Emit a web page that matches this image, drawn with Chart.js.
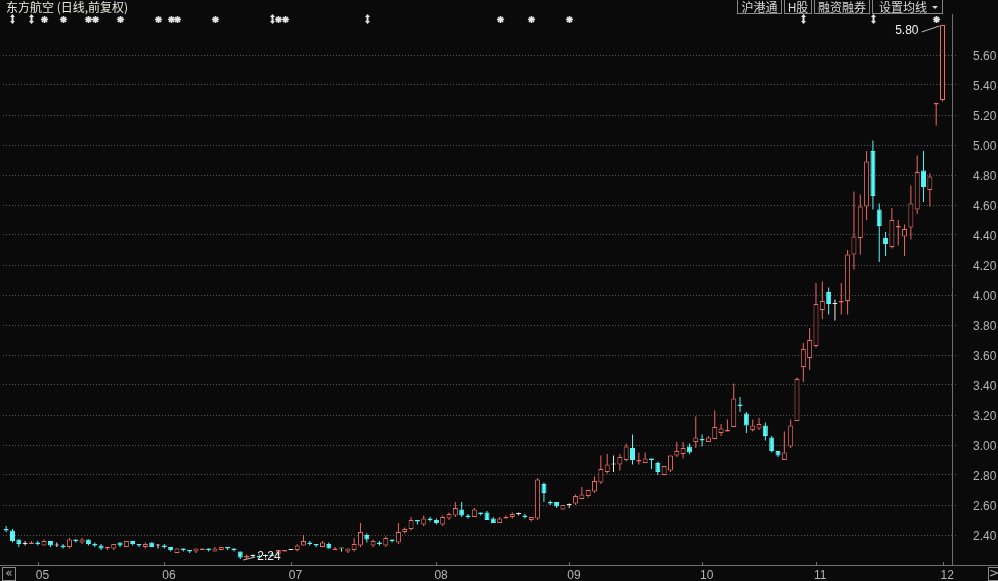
<!DOCTYPE html>
<html>
<head>
<meta charset="utf-8">
<script src="https://cdn.jsdelivr.net/npm/chart.js@4.4.1/dist/chart.umd.min.js"></script>
<style>
  html, body { margin: 0; padding: 0; background: #0a0a0a; }
</style>
</head>
<body>
<canvas id="kline" width="998" height="581"></canvas>
<script>
// trading days, 2014-04-24 .. 2014-12-01
const dates = [
  '04-24','04-25','04-28','04-29','04-30',
  '05-05','05-06','05-07','05-08','05-09','05-12','05-13','05-14','05-15','05-16','05-19','05-20','05-21','05-22','05-23','05-26','05-27','05-28','05-29','05-30',
  '06-03','06-04','06-05','06-06','06-09','06-10','06-11','06-12','06-13','06-16','06-17','06-18','06-19','06-20','06-23','06-24','06-25','06-26','06-27','06-30',
  '07-01','07-02','07-03','07-04','07-07','07-08','07-09','07-10','07-11','07-14','07-15','07-16','07-17','07-18','07-21','07-22','07-23','07-24','07-25','07-28','07-29','07-30','07-31',
  '08-01','08-04','08-05','08-06','08-07','08-08','08-11','08-12','08-13','08-14','08-15','08-18','08-19','08-20','08-21','08-22','08-25','08-26','08-27','08-28','08-29',
  '09-01','09-02','09-03','09-04','09-05','09-09','09-10','09-11','09-12','09-15','09-16','09-17','09-18','09-19','09-22','09-23','09-24','09-25','09-26','09-29','09-30',
  '10-08','10-09','10-10','10-13','10-14','10-15','10-16','10-17','10-20','10-21','10-22','10-23','10-24','10-27','10-28','10-29','10-30','10-31',
  '11-03','11-04','11-05','11-06','11-07','11-10','11-11','11-12','11-13','11-14','11-17','11-18','11-19','11-20','11-21','11-24','11-25','11-26','11-27','11-28',
  '12-01'
];

const opens = [
  2.44, 2.43, 2.37, 2.34, 2.34, 2.35, 2.33, 2.36, 2.33, 2.33,
  2.32, 2.37, 2.35, 2.37, 2.34, 2.33, 2.31, 2.31, 2.35, 2.32,
  2.36, 2.34, 2.32, 2.35, 2.33, 2.33, 2.32, 2.28, 2.31, 2.30,
  2.29, 2.30, 2.31, 2.29, 2.30, 2.32, 2.31, 2.29, 2.25, 2.26,
  2.26, 2.26, 2.27, 2.27, 2.29, 2.30, 2.30, 2.33, 2.35, 2.34,
  2.32, 2.34, 2.30, 2.31, 2.29, 2.30, 2.33, 2.40, 2.33, 2.35,
  2.33, 2.37, 2.35, 2.42, 2.44, 2.50, 2.47, 2.51, 2.50, 2.47,
  2.51, 2.53, 2.57, 2.53, 2.52, 2.55, 2.55, 2.51, 2.48, 2.51,
  2.52, 2.54, 2.53, 2.50, 2.51, 2.74, 2.62, 2.62, 2.57, 2.60,
  2.61, 2.64, 2.66, 2.69, 2.75, 2.82, 2.87, 2.87, 2.90, 2.98,
  2.89, 2.88, 2.91, 2.88, 2.80, 2.83, 2.93, 2.94, 2.99, 3.02,
  3.04, 3.02, 3.04, 3.08, 3.09, 3.12, 3.27, 3.21, 3.10, 3.11,
  3.13, 3.05, 2.96, 2.90, 2.99, 3.16, 3.52, 3.58, 3.66, 3.90,
  4.02, 3.94, 3.95, 3.96, 4.27, 4.38, 4.59, 4.96, 4.57, 4.38,
  4.32, 4.45, 4.39, 4.45, 4.57, 4.83, 4.70, 5.27, 5.30
];
const highs = [
  2.46, 2.44, 2.37, 2.36, 2.36, 2.36, 2.37, 2.36, 2.35, 2.34,
  2.38, 2.37, 2.38, 2.37, 2.35, 2.34, 2.32, 2.34, 2.35, 2.36,
  2.36, 2.34, 2.35, 2.35, 2.34, 2.34, 2.32, 2.31, 2.31, 2.30,
  2.31, 2.31, 2.31, 2.32, 2.32, 2.32, 2.31, 2.29, 2.27, 2.27,
  2.27, 2.27, 2.28, 2.30, 2.30, 2.30, 2.34, 2.40, 2.36, 2.34,
  2.36, 2.35, 2.32, 2.31, 2.31, 2.38, 2.48, 2.41, 2.37, 2.36,
  2.39, 2.37, 2.48, 2.45, 2.52, 2.50, 2.53, 2.52, 2.51, 2.53,
  2.55, 2.62, 2.62, 2.54, 2.58, 2.55, 2.56, 2.52, 2.52, 2.53,
  2.55, 2.55, 2.54, 2.52, 2.78, 2.75, 2.63, 2.62, 2.60, 2.61,
  2.67, 2.72, 2.70, 2.79, 2.93, 2.94, 2.93, 2.94, 3.01, 3.07,
  2.95, 2.95, 2.91, 2.89, 2.86, 2.93, 3.02, 3.02, 3.01, 3.19,
  3.07, 3.06, 3.23, 3.14, 3.17, 3.41, 3.32, 3.22, 3.17, 3.18,
  3.15, 3.06, 2.96, 3.09, 3.17, 3.45, 3.68, 3.78, 4.08, 4.09,
  4.05, 3.97, 4.08, 4.30, 4.69, 4.67, 4.96, 5.03, 4.61, 4.42,
  4.58, 4.50, 4.47, 4.73, 4.93, 4.96, 4.81, 5.28, 5.80
];
const lows = [
  2.42, 2.35, 2.32, 2.33, 2.34, 2.33, 2.33, 2.32, 2.32, 2.31,
  2.31, 2.35, 2.34, 2.33, 2.32, 2.30, 2.30, 2.30, 2.32, 2.32,
  2.33, 2.32, 2.31, 2.32, 2.31, 2.31, 2.29, 2.28, 2.29, 2.28,
  2.28, 2.30, 2.29, 2.29, 2.30, 2.30, 2.29, 2.24, 2.24, 2.25,
  2.25, 2.25, 2.26, 2.26, 2.29, 2.30, 2.29, 2.33, 2.33, 2.32,
  2.32, 2.31, 2.30, 2.29, 2.28, 2.29, 2.32, 2.35, 2.32, 2.33,
  2.32, 2.35, 2.34, 2.41, 2.43, 2.47, 2.46, 2.49, 2.47, 2.46,
  2.50, 2.52, 2.52, 2.51, 2.52, 2.53, 2.50, 2.48, 2.48, 2.51,
  2.51, 2.53, 2.51, 2.49, 2.50, 2.62, 2.60, 2.58, 2.57, 2.58,
  2.60, 2.64, 2.65, 2.68, 2.74, 2.81, 2.82, 2.83, 2.89, 2.87,
  2.87, 2.88, 2.84, 2.80, 2.80, 2.82, 2.92, 2.91, 2.94, 2.98,
  2.99, 3.02, 3.04, 3.06, 3.09, 3.12, 3.22, 3.08, 3.09, 3.10,
  3.03, 2.95, 2.92, 2.90, 2.98, 3.16, 3.42, 3.50, 3.65, 3.84,
  3.87, 3.83, 3.87, 3.87, 4.17, 4.27, 4.50, 4.57, 4.22, 4.26,
  4.31, 4.33, 4.26, 4.37, 4.54, 4.62, 4.59, 5.13, 5.29
];
const closes = [
  2.43, 2.36, 2.34, 2.34, 2.35, 2.34, 2.36, 2.33, 2.33, 2.32,
  2.37, 2.36, 2.37, 2.34, 2.33, 2.31, 2.32, 2.34, 2.33, 2.36,
  2.34, 2.33, 2.34, 2.32, 2.33, 2.32, 2.30, 2.31, 2.30, 2.29,
  2.31, 2.31, 2.30, 2.31, 2.32, 2.31, 2.30, 2.25, 2.26, 2.26,
  2.25, 2.26, 2.26, 2.30, 2.30, 2.30, 2.33, 2.36, 2.34, 2.33,
  2.35, 2.31, 2.31, 2.31, 2.31, 2.34, 2.42, 2.37, 2.36, 2.34,
  2.38, 2.36, 2.42, 2.44, 2.50, 2.49, 2.51, 2.50, 2.48, 2.52,
  2.54, 2.58, 2.53, 2.52, 2.57, 2.54, 2.50, 2.48, 2.51, 2.52,
  2.54, 2.54, 2.52, 2.52, 2.77, 2.68, 2.61, 2.59, 2.60, 2.60,
  2.66, 2.67, 2.70, 2.76, 2.84, 2.87, 2.87, 2.92, 2.99, 2.90,
  2.90, 2.91, 2.90, 2.82, 2.86, 2.93, 2.96, 2.98, 2.95, 3.05,
  3.03, 3.05, 3.12, 3.11, 3.10, 3.31, 3.26, 3.13, 3.13, 3.14,
  3.06, 2.96, 2.93, 2.95, 3.13, 3.44, 3.64, 3.70, 3.94, 3.96,
  3.94, 3.94, 3.96, 4.27, 4.39, 4.59, 4.89, 4.66, 4.46, 4.34,
  4.50, 4.46, 4.44, 4.61, 4.82, 4.72, 4.79, 5.28, 5.80
];

// info-mine markers in the strip above the chart (candle index, glyph)
const eventIdx  = [1, 4, 6, 9, 13, 14, 18, 24, 26, 27, 33, 42, 43, 44, 57, 78, 83, 89, 126, 137, 147];
const eventKind = ['v','v','s','s','s','s','s','s','s','s','s','v','s','s','v','s','s','s','v','v','s'];

const title = '东方航空 (日线,前复权)';
const buttons = ['沪港通', 'H股', '融资融券', '设置均线'];

const BG = '#0a0a0a';
const UP = '#ec6a64';
const DOWN = '#54f6f6';
const FLAT = '#ececec';
const LABEL = '#b4b4b4';

const candleColor = opens.map((o, i) => closes[i] > o ? UP : (closes[i] < o ? DOWN : FLAT));

function monthLabel(i) {
  if (i === 0 || !dates[i]) return '';
  const m = dates[i].slice(0, 2);
  return m !== dates[i - 1].slice(0, 2) ? m : '';
}

const decor = {
  id: 'decor',
  beforeDraw(chart) {
    const c = chart.ctx;
    c.save();
    c.fillStyle = BG;
    c.fillRect(0, 0, chart.width, chart.height);
    c.restore();
  },
  afterDraw(chart) {
    const c = chart.ctx;
    const xs = chart.scales.x, ys = chart.scales.y, area = chart.chartArea;
    c.save();

    // title
    c.font = '12px "Noto Sans CJK SC"';
    c.fillStyle = '#e8e8e0';
    c.textBaseline = 'middle';
    c.textAlign = 'left';
    c.fillText(title, 6, 7);

    // buttons, top right
    const bx = [737, 784, 814, 872], bw = [45, 28, 56, 71];
    c.strokeStyle = '#858585';
    c.lineWidth = 1;
    buttons.forEach((t, k) => {
      c.strokeRect(bx[k] + 0.5, -0.5, bw[k] - 1, 14);
      c.fillStyle = '#d8d8d8';
      c.textAlign = k === 3 ? 'left' : 'center';
      c.fillText(t, k === 3 ? bx[k] + 7 : bx[k] + bw[k] / 2, 7);
    });
    c.fillStyle = '#d8d8d8';
    c.beginPath();
    c.moveTo(932, 6); c.lineTo(938, 6); c.lineTo(935, 9); c.closePath();
    c.fill();

    // event markers
    c.fillStyle = '#e4e4e4';
    c.strokeStyle = '#e4e4e4';
    eventIdx.forEach((idx, k) => {
      const x = Math.round(xs.getPixelForValue(idx)) + 0.5;
      if (eventKind[k] === 's') {
        const y = 19.5, r = 3.6;
        c.lineWidth = 1.6;
        c.beginPath();
        for (let a = 0; a < 4; a++) {
          const t = a * Math.PI / 4;
          c.moveTo(x - r * Math.cos(t), y - r * Math.sin(t));
          c.lineTo(x + r * Math.cos(t), y + r * Math.sin(t));
        }
        c.stroke();
        c.beginPath();
        c.arc(x, y, 2, 0, Math.PI * 2);
        c.fill();
      } else {
        c.beginPath();
        c.moveTo(x, 14); c.lineTo(x + 2.5, 17); c.lineTo(x + 1, 17); c.lineTo(x + 1, 21);
        c.lineTo(x + 2.5, 21); c.lineTo(x, 24); c.lineTo(x - 2.5, 21); c.lineTo(x - 1, 21);
        c.lineTo(x - 1, 17); c.lineTo(x - 2.5, 17); c.closePath();
        c.fill();
      }
    });

    // separator and bottom axis line
    c.lineWidth = 1;
    c.strokeStyle = '#6e6e6e';
    c.beginPath();
    c.moveTo(Math.round(area.right) + 0.5, 14);
    c.lineTo(Math.round(area.right) + 0.5, area.bottom);
    c.moveTo(0, area.bottom + 0.5);
    c.lineTo(chart.width, area.bottom + 0.5);
    dates.forEach((d, i) => {
      if (monthLabel(i)) {
        const x = Math.round(xs.getPixelForValue(i)) + 0.5;
        c.moveTo(x, area.bottom - 3);
        c.lineTo(x, area.bottom);
      }
    });
    c.stroke();

    // scroll buttons
    c.strokeStyle = '#8a8a8a';
    c.strokeRect(2.5, 567.5, 13, 13);
    c.strokeRect(988.5, 567.5, 12, 13);
    c.fillStyle = '#b0b0b0';
    c.font = '12px "DejaVu Sans"';
    c.textAlign = 'center';
    c.fillText('«', 9, 574);
    c.fillText('>', 994, 574);

    // highest / lowest labels
    const hi = Math.max(...highs), lo = Math.min(...lows);
    const hiIdx = highs.indexOf(hi), loIdx = lows.indexOf(lo);
    const hx = xs.getPixelForValue(hiIdx), hy = ys.getPixelForValue(hi);
    const lx = xs.getPixelForValue(loIdx), ly = ys.getPixelForValue(lo);
    c.strokeStyle = '#bdbdbd';
    c.beginPath();
    c.moveTo(hx - 21, hy + 7); c.lineTo(hx - 3, hy + 1);
    c.moveTo(lx + 3, ly + 1); c.lineTo(lx + 15, ly - 2);
    c.stroke();
    c.font = '12px "Liberation Sans"';
    c.fillStyle = '#f0f0f0';
    c.textAlign = 'right';
    c.fillText(hi.toFixed(2), hx - 24, hy + 6);
    c.textAlign = 'left';
    c.fillText(lo.toFixed(2), lx + 17, ly - 2);

    c.restore();
  }
};

const edge = v => Math.abs(v - 2.2) < 1e-6 || Math.abs(v - 5.8) < 1e-6;

new Chart(document.getElementById('kline').getContext('2d'), {
  type: 'bar',
  data: {
    labels: dates.concat(['']),
    datasets: [
      {
        label: 'body',
        data: opens.map((o, i) => [o, closes[i]]),
        backgroundColor: candleColor.map(col => col === UP ? BG : col),
        borderColor: candleColor,
        borderWidth: 1,
        borderSkipped: false,
        barThickness: 5,
        minBarLength: 1,
        grouped: false,
        inflateAmount: 0
      },
      {
        label: 'wick',
        data: lows.map((l, i) => [l, highs[i]]),
        backgroundColor: candleColor,
        borderWidth: 0,
        barThickness: 1,
        grouped: false,
        inflateAmount: 0
      }
    ]
  },
  options: {
    responsive: false,
    devicePixelRatio: 1,
    animation: false,
    layout: { padding: { left: 3, top: 25, right: 0, bottom: 0 } },
    plugins: { legend: { display: false }, tooltip: { enabled: false } },
    scales: {
      x: {
        offset: true,
        grid: { display: false, drawTicks: false },
        border: { display: false },
        ticks: {
          autoSkip: false,
          maxRotation: 0,
          minRotation: 0,
          align: 'start',
          labelOffset: -2,
          padding: 3,
          color: LABEL,
          font: { family: 'Liberation Sans', size: 12 },
          callback: (v, i) => monthLabel(i)
        },
        afterFit: s => { s.height = 16; }
      },
      y: {
        position: 'right',
        min: 2.2,
        max: 5.8,
        ticks: {
          stepSize: 0.2,
          padding: 16,
          labelOffset: 2,
          color: LABEL,
          font: { family: 'Liberation Sans', size: 12 },
          callback: v => edge(v) ? '' : v.toFixed(2)
        },
        grid: {
          color: ctx => ctx.tick && edge(ctx.tick.value) ? 'transparent' : '#585858',
          tickColor: ctx => ctx.tick && edge(ctx.tick.value) ? 'transparent' : '#585858',
          tickLength: 5,
          tickBorderDash: [1, 2],
          lineWidth: 1
        },
        border: { display: false, dash: [1, 2] },
        afterFit: s => { s.width = 46; s.paddingTop = 0; s.paddingBottom = 0; }
      }
    }
  },
  plugins: [decor]
});
</script>
</body>
</html>
